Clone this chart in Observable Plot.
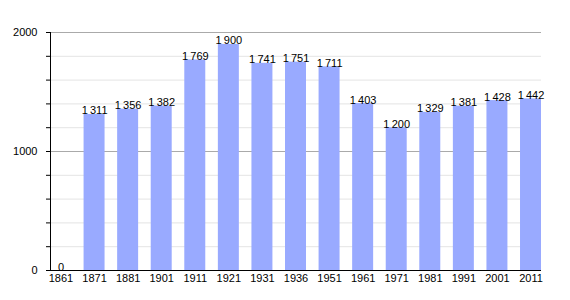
<!DOCTYPE html>
<html>
<head>
<meta charset="utf-8">
<script src="https://cdn.jsdelivr.net/npm/d3@7"></script>
<script src="https://cdn.jsdelivr.net/npm/@observablehq/plot@0.6"></script>
<style>
  body { margin: 0; background: #fff; }
  #chart svg { font-family: "Liberation Sans", Arial, sans-serif; }
</style>
</head>
<body>
<div id="chart"></div>
<script>
const years = ["1861","1871","1881","1901","1911","1921","1931","1936","1951","1961","1971","1981","1991","2001","2011"];
const population = [0,1311,1356,1382,1769,1900,1741,1751,1711,1403,1200,1329,1381,1428,1442];
const gridTicks = [0,200,400,600,800,1000,1200,1400,1600,1800,2000];
const labelTicks = [0,1000,2000];

const data = years.map((y, i) => ({year: y, pop: population[i]}));
const fmt = v => v >= 1000 ? String(Math.floor(v/1000)) + "\u202F" + String(v % 1000).padStart(3, "0") : String(v);

const chart = Plot.plot({
  width: 570,
  height: 300,
  marginTop: 32,
  marginBottom: 30,
  marginLeft: 50,
  marginRight: 29,
  style: {fontSize: "11px", fontFamily: "Liberation Sans, Arial, sans-serif", color: "#000"},
  x: {domain: years, paddingInner: 0.375, paddingOuter: 0, round: false, label: null},
  y: {domain: [0, 2000], label: null},
  marks: [
    Plot.ruleY(gridTicks, {stroke: "#e4e4e4", strokeWidth: 1}),
    Plot.ruleY([1000, 2000], {stroke: "#aaaaaa", strokeWidth: 1}),
    Plot.barY(data, {x: "year", y: "pop", fill: "#99aaff"}),
    Plot.text(data, {x: "year", y: "pop", text: d => fmt(d.pop), lineAnchor: "bottom", dy: 0, fill: "#000", fontSize: 11}),
    Plot.ruleY([0], {stroke: "#000", strokeWidth: 1}),
    Plot.frame({anchor: "left", stroke: "#000"}),
    Plot.axisY({ticks: gridTicks, tickSize: 4, tickPadding: 9, tickFormat: d => labelTicks.includes(d) ? String(d) : "", label: null, fontSize: 11}),
    Plot.axisX({tickSize: 0, tickPadding: 4, label: null, fontSize: 11})
  ]
});
document.getElementById("chart").appendChild(chart);
</script>
</body>
</html>
